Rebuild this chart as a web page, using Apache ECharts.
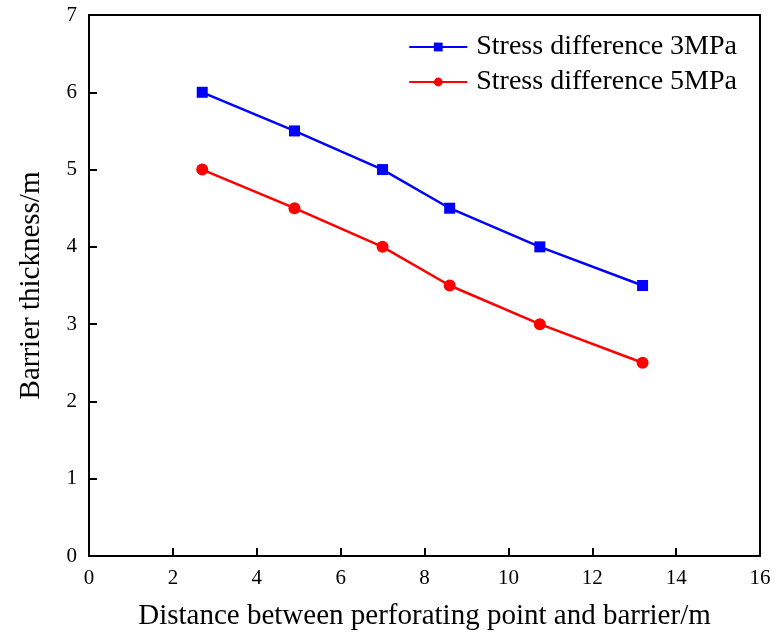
<!DOCTYPE html>
<html>
<head>
<meta charset="utf-8">
<script src="https://cdn.jsdelivr.net/npm/echarts@6/dist/echarts.min.js"></script>
<style>
    html, body { margin: 0; padding: 0; background: #fff; }
    #main { width: 776px; height: 632px; }
</style>
</head>
<body>
<div id="main"></div>
<script>
// distance between perforating point and barrier (m)
const distance = [2.7, 4.9, 7.0, 8.6, 10.75, 13.2]
// barrier thickness (m)
const stress3 = [6, 5.5, 5, 4.5, 4, 3.5]
const stress5 = [5, 4.5, 4, 3.5, 3, 2.5]
const seriesNames = ['Stress difference 3MPa', 'Stress difference 5MPa']

const pairs = (xs, ys) => xs.map((x, i) => [x, ys[i]])

let mychart = echarts.init(document.getElementById('main'))

const font = 'Liberation Serif, Times New Roman, serif'

var option = {
    animation: false,
    textStyle: { fontFamily: font },
    grid: {
        left: 89,
        right: 16,
        top: 15,
        bottom: 76,
        outerBoundsMode: 'none',
        containLabel: false,
        show: true,
        borderColor: '#000',
        borderWidth: 2
    },
    legend: {
        top: 28,
        right: 34,
        orient: 'vertical',
        itemWidth: 58,
        itemHeight: 11,
        itemGap: 7,
        textStyle: { fontFamily: font, fontSize: 28, color: '#000', padding: [0, 0, 0, 4] },
        data: seriesNames
    },
    xAxis: {
        type: 'value',
        min: 0,
        max: 16,
        interval: 2,
        name: 'Distance between perforating point and barrier/m',
        nameLocation: 'middle',
        nameGap: 46,
        nameTextStyle: { fontFamily: font, fontSize: 29, color: '#000' },
        axisLine: { lineStyle: { color: '#000', width: 2 } },
        axisTick: { inside: true, length: 8, lineStyle: { color: '#000', width: 2 } },
        axisLabel: { fontFamily: font, fontSize: 21, color: '#000', margin: 12 },
        splitLine: { show: false }
    },
    yAxis: {
        type: 'value',
        min: 0,
        max: 7,
        interval: 1,
        name: 'Barrier thickness/m',
        nameLocation: 'middle',
        nameGap: 43,
        nameTextStyle: { fontFamily: font, fontSize: 29, color: '#000' },
        axisLine: { lineStyle: { color: '#000', width: 2 } },
        axisTick: { inside: true, length: 8, lineStyle: { color: '#000', width: 2 } },
        axisLabel: { fontFamily: font, fontSize: 21, color: '#000', margin: 12 },
        splitLine: { show: false }
    },
    series: [
        {
            name: seriesNames[0],
            type: 'line',
            data: pairs(distance, stress3),
            symbol: 'rect',
            symbolSize: 11,
            color: '#0000ff',
            lineStyle: { width: 2.5 },
            itemStyle: { color: '#0000ff' }
        },
        {
            name: seriesNames[1],
            type: 'line',
            data: pairs(distance, stress5),
            symbol: 'circle',
            symbolSize: 12,
            color: '#ff0000',
            lineStyle: { width: 2.5 },
            itemStyle: { color: '#ff0000' }
        }
    ]
};

mychart.setOption(option)
</script>
</body>
</html>
